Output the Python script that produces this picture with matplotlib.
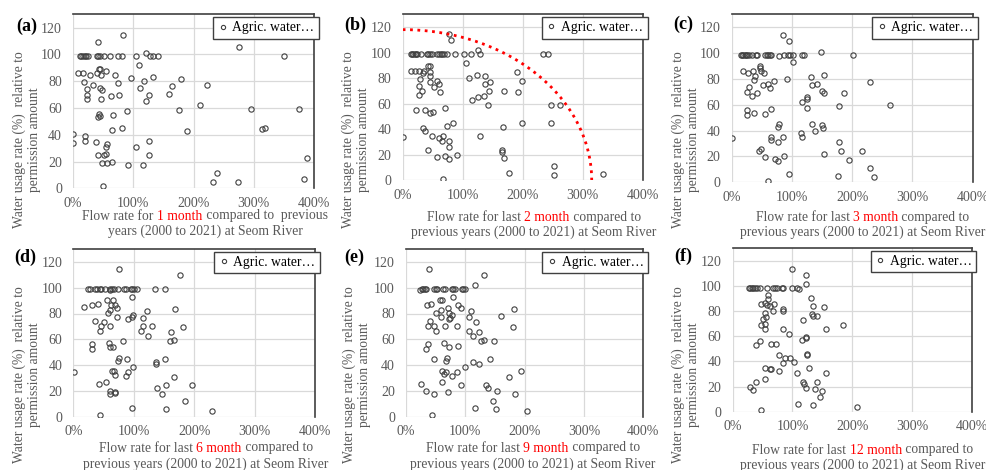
import numpy as np
import matplotlib.pyplot as plt

plt.rcParams['font.family'] = ['Liberation Serif', 'DejaVu Serif']

W, H = 986, 470
GRAY = '#595959'
RED = '#ff0000'

# (a) flow rate for 1 month (%) vs water usage rate (%)
a_x = [11, 13.8, 16.6, 19.3, 22, 24.3, 39.2, 42, 44.8, 50.8, 61.9, 74, 81.2, 105, 128, 132, 141, 351,
       82.3, 41.4, 121, 275.7, 110, 45, 43, 7.7, 17, 28, 39.8, 46.4, 55.3, 69.6, 95.6, 132, 179,
       18.8, 74, 33.7, 163.5, 222.7, 44.2, 48.6, 23.8, 112, 117.7, 23.8, 23.8, 46.4, 63, 75.7, 126.5, 121, 160,
       176, 210.5, 296, 375, 90, 43, 44.2, 42, 66.3, 64, 80.7, 190, 314.4, 318.8,
       0.5, 20.4, 0.5, 19.3, 38, 56.4, 55.3, 105, 126.5, 40.9, 50.8, 54.7, 126.5, 388.4,
       47.5, 56.4, 65.2, 91.2, 117, 238.7, 232, 274, 383, 49.7]
a_y = [98.6] * 18 + [
       114.3, 109, 101.3, 105.6, 92.4, 89.4, 89.4, 86.2, 86.2, 85, 86.2, 84.7, 87.4, 84.5, 82.5, 83.2, 82,
       79.5, 78.5, 77, 76.8, 77.5, 75.3, 73.8, 74, 75.3, 80.5, 69.8, 66.8, 66.6, 68.8, 70, 69.8, 65.3, 70.3,
       58.4, 61.9, 58.9, 58.9, 57.4, 55.6, 54.2, 52.9, 54.4, 43.2, 45, 42.7, 44.2, 44.7,
       40.2, 38.8, 33.5, 35, 34.3, 32.8, 30.8, 30.8, 35.3, 24.6, 24.6, 26, 24.6, 22.6,
       18.6, 19.1, 19.6, 17.6, 17.6, 11.7, 5, 4.5, 6.7, 1.5]

# (b) last 2 months
b_x = [13.3, 15.6, 17.8, 20, 22.2, 24.4, 30, 40, 42.8, 45.6, 48.3, 57.8, 60, 63.3, 66.1, 68.9, 74.4, 86.7,
       101.7, 113.9, 128.9, 233.3, 241.7,
       77.8, 81.1, 125, 106, 13.3, 20.6, 27.8, 36, 34.4, 42.8, 46,
       45.6, 45.6, 124.4, 136.7, 190.6, 28.9, 110, 56.7, 45.6, 145, 198.9,
       60, 52.8, 26.7, 31.7, 62.2, 137.2, 144.4, 168.3, 191.7,
       26.7, 126, 136, 116, 142.8, 247, 262.8, 22.8, 37.8, 45, 50.6, 71.1,
       83.3, 73.9, 33.3, 37.8, 167.2, 198.9, 247.2,
       0.5, 49.4, 67.8, 61.1, 66, 77.8, 77.8, 129.4,
       42.8, 166, 166, 57.2, 71.1, 91.1, 77.8, 168.3,
       176.7, 251.7, 252.8, 334.4, 66.7]
b_y = [98.9] * 23 + [
       114.3, 109.6, 101.8, 92.1, 85.9, 85.9, 85.9, 85.4, 84.3, 89.5, 89.5,
       84.9, 82, 82.8, 81.5, 85.1, 79.1, 80.2, 78.1, 76.8, 76.8, 77.8,
       75.5, 73.1, 73.9, 70, 69.2, 75.5, 70, 70.3, 69.2,
       66.6, 65.3, 66.1, 62.5, 58.6, 58.6, 59.3, 55.4, 54.7, 52.6, 53.1, 56.5,
       45, 42.2, 40.6, 38.5, 41.9, 45, 44.5,
       34.1, 34.4, 34.4, 32.8, 30.7, 30.5, 26, 34.4,
       23.9, 23.7, 22.4, 18.2, 19.3, 19.5, 16.4, 17.2,
       6, 11.5, 3.9, 4.9, 0.8]

# (c) last 3 months
c_x = [14.9, 17.2, 19.4, 21.6, 23.8, 26, 28.8, 34.3, 40.4, 42.6, 55.9, 58.1, 60.3, 63.6, 65.8, 87.4, 92.9,
       96.8, 102.4, 116.2, 119.5, 202,
       85.8, 95.7, 148.8, 79.1, 102.4, 47, 47, 18.3, 27.1, 35.4, 39.3, 48.7, 53.7,
       37.6, 92.4, 131.7, 153.8, 69.7, 52.6, 59.8, 63.6, 28.2, 133.9, 142.2, 230.2,
       26, 42.6, 33.7, 150.5, 153.8, 186.5, 125.6, 124.5, 117.3, 125.6, 177.6, 262.3,
       65.8, 26, 26, 37.6, 54.8, 79.1, 76.3, 133.9, 149.9, 151.6, 138.3, 115.6,
       0, 64.7, 64.7, 85.2, 116.7, 76.9, 177.6,
       48.1, 45.4, 180.9, 216.3, 153.8, 54.8, 86.9, 72.5, 76.9, 194.8,
       228.9, 95.7, 176.5, 236.8, 60.3]
c_y = [98.7] * 22 + [
       114.1, 109.5, 101, 97.4, 92.8, 89.7, 88.4, 86.1, 84.3, 85.8, 82, 86.1, 84.6,
       79.4, 79.9, 81.7, 82.7, 78.1, 75.6, 76.1, 73.2, 74, 75.6, 75.8, 77.6,
       69.6, 68.9, 66.6, 70.9, 68.9, 68.9, 65.8, 64.5, 62.5, 57.8, 59.1, 59.6,
       56.8, 55.8, 52.2, 53.7, 53.2, 45, 42.9, 45, 44.7, 42.4, 39.8, 38.5,
       34.2, 34.7, 32.4, 34.7, 35.2, 31.1, 31.1,
       25.7, 23.9, 24.2, 24.2, 22.1, 19.8, 20, 17.7, 16.7, 17,
       11.1, 6.4, 5.1, 4.1, 1.3]

# (d) last 6 months
d_x = [24.8, 27.6, 35.3, 38.6, 44.1, 45.2, 52.4, 60.7, 64.5, 67.3, 73.9, 83.9, 86.6, 94.9, 97.7, 100.4,
       104.8, 134.6, 152.3, 61.2,
       76.1, 176.5, 97.7, 18.2, 30.3, 41.4, 56.3, 66.2, 61.8, 68.9, 71.8, 60.7, 57.9, 121.4, 168.8,
       36.4, 50.8, 71.8, 98.2, 96.6, 91, 115.4,
       45.2, 44.1, 61.2, 114.8, 129.7, 181, 111.4, 162.2, 123, 82.2, 160, 166.6,
       30.3, 30.3, 58.5, 60.1, 65.7, 75, 73.9, 89.4, 151.2, 137, 137.5, 98.8,
       1.1, 64, 67.3, 68.4, 89.9, 87.2, 167.2,
       42.5, 54.1, 153.4, 196.4, 139.2, 60.1, 60.1, 69.5, 69.5, 146.2,
       184.3, 96.6, 152.8, 230, 43.6]
d_y = [99] * 19 + [98.2,
       114.6, 109.5, 92.8, 84.9, 86.7, 87.7, 90.3, 90.3, 86.7, 86.7, 84.6, 82.8, 80.3, 81.8, 83.6,
       74.1, 73.6, 77.4, 79.2, 77.4, 75.9, 76.2,
       70.3, 66.7, 70, 70.3, 70, 69.5, 66.4, 65.9, 62.8, 59, 58.7, 59.5,
       56.1, 52.6, 56.9, 54.4, 54.4, 45.4, 43.3, 45.1, 44.6, 42.6, 40.5, 38.7,
       34.4, 35.1, 35.1, 32.6, 34.6, 31.5, 31,
       25.4, 26.9, 24.4, 24.4, 22.6, 20, 17.4, 19.5, 18.7, 17.4,
       12, 6.7, 5.9, 4.6, 1.3]

# (e) last 9 months
e_x = [26.4, 29.2, 32, 34.3, 46.6, 50.6, 52.8, 62.4, 65.2, 77, 79.8, 82, 94.4, 96.6, 98.9, 23.6,
       39.3, 131.5, 116.9, 78.7, 57.3, 60.7, 34.8, 42.1, 88.2, 92.7, 70.2, 58.4, 110.1, 181.5,
       50, 73, 78.1, 74.2, 73, 58.4, 105.6, 159.6, 40.4, 118,
       37.6, 47.2, 66.3, 85.4, 180.3, 50.6, 105.6, 123.6, 113.5, 126.4, 131.5, 148.3,
       36.5, 34.3, 64.6, 72.5, 87.6, 47.8, 69.1, 68, 113.5, 123, 141.6, 100,
       61.2, 67.4, 64.6, 86.5, 193.8, 78.1, 173,
       25.3, 60.7, 93.3, 134.3, 138.2, 33.7, 70.2, 153.9, 47.2, 184.3,
       147.2, 115.7, 152.2, 204.5, 44.4]
e_y = [99] * 15 + [98.2,
       114.4, 109.5, 102, 92.8, 90.3, 90.3, 86.4, 87.4, 86.4, 84.6, 84.4, 82.8, 81.8, 83.6,
       80.3, 80.3, 79, 76.2, 75.4, 77.4, 77.4, 77.7, 74.1, 73.3,
       70, 70, 70.5, 70, 69.5, 66.7, 66.4, 65.9, 62.8, 59, 59.5, 59,
       56.1, 52.8, 56.9, 54.4, 54.9, 45.1, 45.4, 43.3, 42.3, 40.5, 44.6, 38.7,
       35.1, 34.4, 33.1, 34.4, 35.1, 31.5, 31,
       25.4, 26.9, 24.4, 24.4, 22.6, 20.3, 19.2, 19.7, 17.4, 17.4,
       12, 6.7, 5.9, 4.6, 1.3]

# (f) last 12 months
f_x = [26.8, 29, 31.8, 34.6, 37.4, 40.2, 45.7, 58, 68.1, 71.4, 74.8, 82, 84.8, 99.9, 107.1, 110.5,
       99.9, 122.2, 122.2, 131.1, 59.1, 59.1,
       47.4, 53.6, 56.9, 62.5, 69.2, 135, 153.4, 83.7, 84.8, 68.1, 54.1, 55.2, 132.2, 134.4, 140.6,
       51.3, 117.2, 54.1, 47.4, 185.2, 54.7, 84.2, 156.2, 93.7,
       123.3, 123.3, 115.5, 45.7, 39.1, 63.6, 72.5,
       77, 123.9, 123.9, 87, 96, 84.8, 102.1,
       54.1, 64.7, 63, 127.2, 77.5, 107.1, 156.2,
       54.7, 39.6, 117.7, 141.1, 118.8, 122.7, 138.3, 149.5, 29, 34,
       145.6, 109.3, 134.4, 208.1, 48]
f_y = [98.6] * 15 + [97.8,
       113.9, 108.9, 101.5, 90.2, 89.9, 92.8,
       86, 86.5, 85.2, 84.1, 86, 83.9, 83.1, 82, 79.9, 79.9, 78.6, 75.4, 77.5, 76.2, 76.5,
       73.6, 73, 70.1, 69.1, 68.6, 65.9, 65.4, 65.4, 62.2,
       59.6, 58.5, 56.7, 55.9, 52.7, 53.8, 54.1,
       45.4, 44.8, 45.6, 42.5, 42.5, 38.5, 39.6,
       34.5, 34.3, 34.3, 35.1, 32.2, 30.9, 30.9,
       26.4, 24, 24, 23.7, 22.2, 19, 18.2, 16.6, 19.5, 16.9,
       11.3, 6.1, 5.3, 4, 1.1]

# dotted envelope in (b): quarter ellipse through (0, 118) and (315, 0)
env_x_radius = 315
env_y_radius = 118

x_ticks = [0, 100, 200, 300, 400]
x_tick_labels = ['0%', '100%', '200%', '300%', '400%']
y_ticks = [0, 20, 40, 60, 80, 100, 120]

# label, x, y, red word, axes box in px (left, top, right, bottom), xlabel centre x, xlabel line y's,
# panel-label xy, ylabel xy
panels = [
    ('(a)', a_x, a_y, '1 month', (73, 14.3, 314, 188.3), 205, (216, 231), (27, 26), (27, 140)),
    ('(b)', b_x, b_y, '2 month', (402.7, 14.3, 642.7, 180.3), 534, (217, 232), (355, 25), (356, 140)),
    ('(c)', c_x, c_y, '3 month', (731.7, 14.3, 972.7, 182.3), 862.5, (217, 232), (683, 24), (686, 140)),
    ('(d)', d_x, d_y, '6 month', (73.3, 249, 315, 416.7), 206, (448, 464), (25, 257), (27, 375)),
    ('(e)', e_x, e_y, '9 month', (406, 249, 643.3, 416.7), 533, (448, 464), (354, 257), (357, 375)),
    ('(f)', f_x, f_y, '12 month', (732.7, 248.3, 971.7, 411.7), 862.5, (450, 465), (683, 256), (686, 375)),
]

fig = plt.figure(figsize=(W / 100, H / 100), dpi=100)
r = fig.canvas.get_renderer()
FS = 9.8
TICK_FS = 10


def text_w(s):
    t = fig.text(0, 0, s, fontsize=FS)
    w = t.get_window_extent(r).width
    t.remove()
    return w


def colored_line(cx, cy, parts):
    bar = text_w('|')
    total = text_w(''.join(s for s, _ in parts) + '|') - bar
    x = cx - total / 2
    done = ''
    for s, c in parts:
        off = text_w(done + '|') - bar if done else 0
        fig.text((x + off) / W, 1 - cy / H, s, color=c, fontsize=FS, ha='left', va='center')
        done += s


for label, xs, ys, month, box, lx, ly, pl, yl in panels:
    left, top, right, bottom = box
    ax = fig.add_axes([left / W, 1 - bottom / H, (right - left) / W, (bottom - top) / H])
    ax.plot(xs, ys, 'o', ms=3.8, mfc='none', mec='#404040', mew=0.8, label='Agric. water…')
    ax.set_xlim(0, 400)
    ax.set_ylim(0, 130)
    ax.set_xticks(x_ticks)
    ax.set_xticklabels(x_tick_labels)
    ax.set_yticks(y_ticks)
    ax.tick_params(length=0, labelsize=TICK_FS, labelcolor=GRAY)
    ax.tick_params(axis='x', pad=6)
    ax.tick_params(axis='y', pad=8)
    ax.grid(color='#d9d9d9', lw=0.9)
    ax.set_axisbelow(True)
    for s in ['left', 'bottom']:
        ax.spines[s].set_visible(False)
    for s in ['top', 'right']:
        ax.spines[s].set_color('#404040')
        ax.spines[s].set_linewidth(1.2)
    if label == '(b)':
        t = np.linspace(0, np.pi / 2, 200)
        ax.plot(env_x_radius * np.sin(t), env_y_radius * np.cos(t), ':', color=RED, lw=2)
    leg = ax.legend(loc='upper right', bbox_to_anchor=(1.02, 0.985), borderaxespad=0,
                    fontsize=FS, fancybox=False, framealpha=1, edgecolor='#404040',
                    handlelength=0.8, handletextpad=0.3, borderpad=0.32, markerscale=0.8)
    leg.get_frame().set_linewidth(1)
    leg.set_clip_on(False)

    if label == '(a)':
        line1 = [('Flow rate for ', GRAY), (month, RED), (' compared to  previous', GRAY)]
        line2 = 'years (2000 to 2021) at Seom River'
    else:
        line1 = [('Flow rate for last ', GRAY), (month, RED), (' compared to', GRAY)]
        line2 = 'previous years (2000 to 2021) at Seom River'
    colored_line(lx, ly[0], line1)
    fig.text(lx / W, 1 - ly[1] / H, line2, color=GRAY, fontsize=FS, ha='center', va='center')

    fig.text(pl[0] / W, 1 - pl[1] / H, label, fontsize=13, fontweight='bold', ha='center', va='center')
    fig.text(yl[0] / W, 1 - yl[1] / H, 'Water usage rate (%)  relative to\npermission amount',
             rotation=90, fontsize=FS, color=GRAY, ha='center', va='center',
             multialignment='center', linespacing=1.15)

fig.savefig('out.png', dpi=100)
